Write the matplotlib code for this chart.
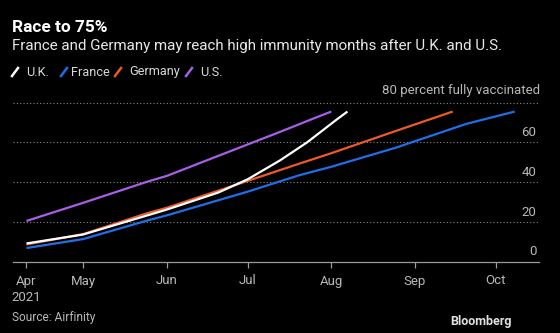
import datetime as dt

import matplotlib

matplotlib.use("Agg")
import matplotlib.dates as mdates
import matplotlib.pyplot as plt
from matplotlib.lines import Line2D

plt.rcParams["font.family"] = ["Roboto", "DejaVu Sans"]

D = dt.date

# values (percent fully vaccinated)
uk_dates = [D(2021, 4, 10), D(2021, 5, 1), D(2021, 6, 1), D(2021, 6, 20), D(2021, 7, 1),
            D(2021, 7, 13), D(2021, 7, 23), D(2021, 8, 3), D(2021, 8, 7)]
uk_vals = [9.3, 13.8, 26.3, 34.8, 41.5, 51.0, 60.0, 71.5, 75.5]

fr_dates = [D(2021, 4, 10), D(2021, 5, 1), D(2021, 5, 25), D(2021, 6, 1), D(2021, 7, 1),
            D(2021, 7, 20), D(2021, 8, 1), D(2021, 8, 25), D(2021, 9, 20), D(2021, 10, 8)]
fr_vals = [7.0, 11.5, 20.9, 23.4, 35.3, 43.5, 47.8, 57.4, 69.3, 75.5]

de_dates = [D(2021, 4, 10), D(2021, 5, 1), D(2021, 5, 25), D(2021, 6, 1), D(2021, 7, 1),
            D(2021, 7, 20), D(2021, 8, 1), D(2021, 8, 25), D(2021, 9, 15)]
de_vals = [8.8, 14.0, 24.6, 27.2, 40.7, 49.3, 54.6, 65.8, 75.5]

us_dates = [D(2021, 4, 10), D(2021, 5, 1), D(2021, 5, 25), D(2021, 6, 1), D(2021, 7, 1),
            D(2021, 7, 13), D(2021, 7, 25), D(2021, 8, 1)]
us_vals = [20.6, 29.7, 40.4, 43.2, 59.0, 65.3, 71.8, 75.5]

series = [
    ("U.K.", uk_dates, uk_vals, "#ffffff"),
    ("France", fr_dates, fr_vals, "#1f6fe8"),
    ("Germany", de_dates, de_vals, "#ec5a2a"),
    ("U.S.", us_dates, us_vals, "#a95ee8"),
]

tick_dates = [D(2021, 4, 10), D(2021, 5, 1), D(2021, 6, 1), D(2021, 7, 1),
              D(2021, 8, 1), D(2021, 9, 1), D(2021, 10, 1)]
tick_labels = ["Apr\n2021", "May", "Jun", "Jul", "Aug", "Sep", "Oct"]
y_ticks = [0, 20, 40, 60]
grid_vals = [20, 40, 60, 80]

BG = "#000000"
GRAY = "#b8b8b8"

fig = plt.figure(figsize=(5.6, 3.33), dpi=100, facecolor=BG)
ax = fig.add_axes([13 / 560, 1 - 262 / 333, 526 / 560, 162 / 333], facecolor=BG)

for g in grid_vals:
    ax.axhline(g, color="#8a8a8a", lw=0.8, ls=(0, (1, 2)), zorder=1)

# France/Germany first so the U.K. line sits on top near the start
order = [1, 2, 0, 3]
for i in order:
    name, dts, vals, col = series[i]
    ax.plot(dts, vals, color=col, lw=1.6, solid_capstyle="butt", zorder=3)

ax.set_xlim(D(2021, 4, 5), D(2021, 10, 17))
ax.set_ylim(0, 81.3)

for s in ["top", "right", "left"]:
    ax.spines[s].set_visible(False)
ax.spines["bottom"].set_color("#9a9a9a")
ax.spines["bottom"].set_linewidth(0.9)

ax.set_xticks([mdates.date2num(t) for t in tick_dates])
ax.set_xticklabels(tick_labels, ha="center", va="top", linespacing=1.35)
ax.tick_params(axis="x", colors="#9a9a9a", length=4, width=0.9, pad=5,
               labelcolor=GRAY, labelsize=9.5)
ax.set_yticks([])

trans = ax.get_yaxis_transform()
for v in y_ticks:
    ax.text(0.995, v + 1.8, str(v), transform=trans, ha="right", va="bottom",
            color=GRAY, fontsize=9.5)
ax.text(1.003, 82.8, "80 percent fully vaccinated", transform=trans, ha="right",
        va="bottom", color=GRAY, fontsize=9.5, clip_on=False)

# title block
fig.text(12 / 560, 1 - 27 / 333, "Race to 75%", color="#ffffff", fontsize=12.4,
         fontweight="bold", va="center", ha="left")
fig.text(12 / 560, 1 - 46 / 333,
         "France and Germany may reach high immunity months after U.K. and U.S.",
         color="#e8e8e8", fontsize=10.9, va="center", ha="left")

# legend with slash marks
leg_x = [(12, 26), (61, 71), (115, 129), (186, 200)]
for (sx, tx), (name, _, _, col) in zip(leg_x, series):
    fig.add_artist(Line2D([sx / 560, (sx + 6) / 560], [1 - 76 / 333, 1 - 68 / 333],
                          color=col, lw=1.8, transform=fig.transFigure))
    fig.text(tx / 560, 1 - 72 / 333, name, color="#d8d8d8", fontsize=9.2,
             va="center", ha="left")

fig.text(12 / 560, 1 - 317 / 333, "Source: Airfinity", color=GRAY, fontsize=8.6,
         va="center", ha="left")
fig.text(512 / 560, 1 - 321 / 333, "Bloomberg", color="#e0e0e0", fontsize=9,
         fontweight="bold", va="center", ha="right")

fig.savefig("out.png", dpi=100, facecolor=BG)
